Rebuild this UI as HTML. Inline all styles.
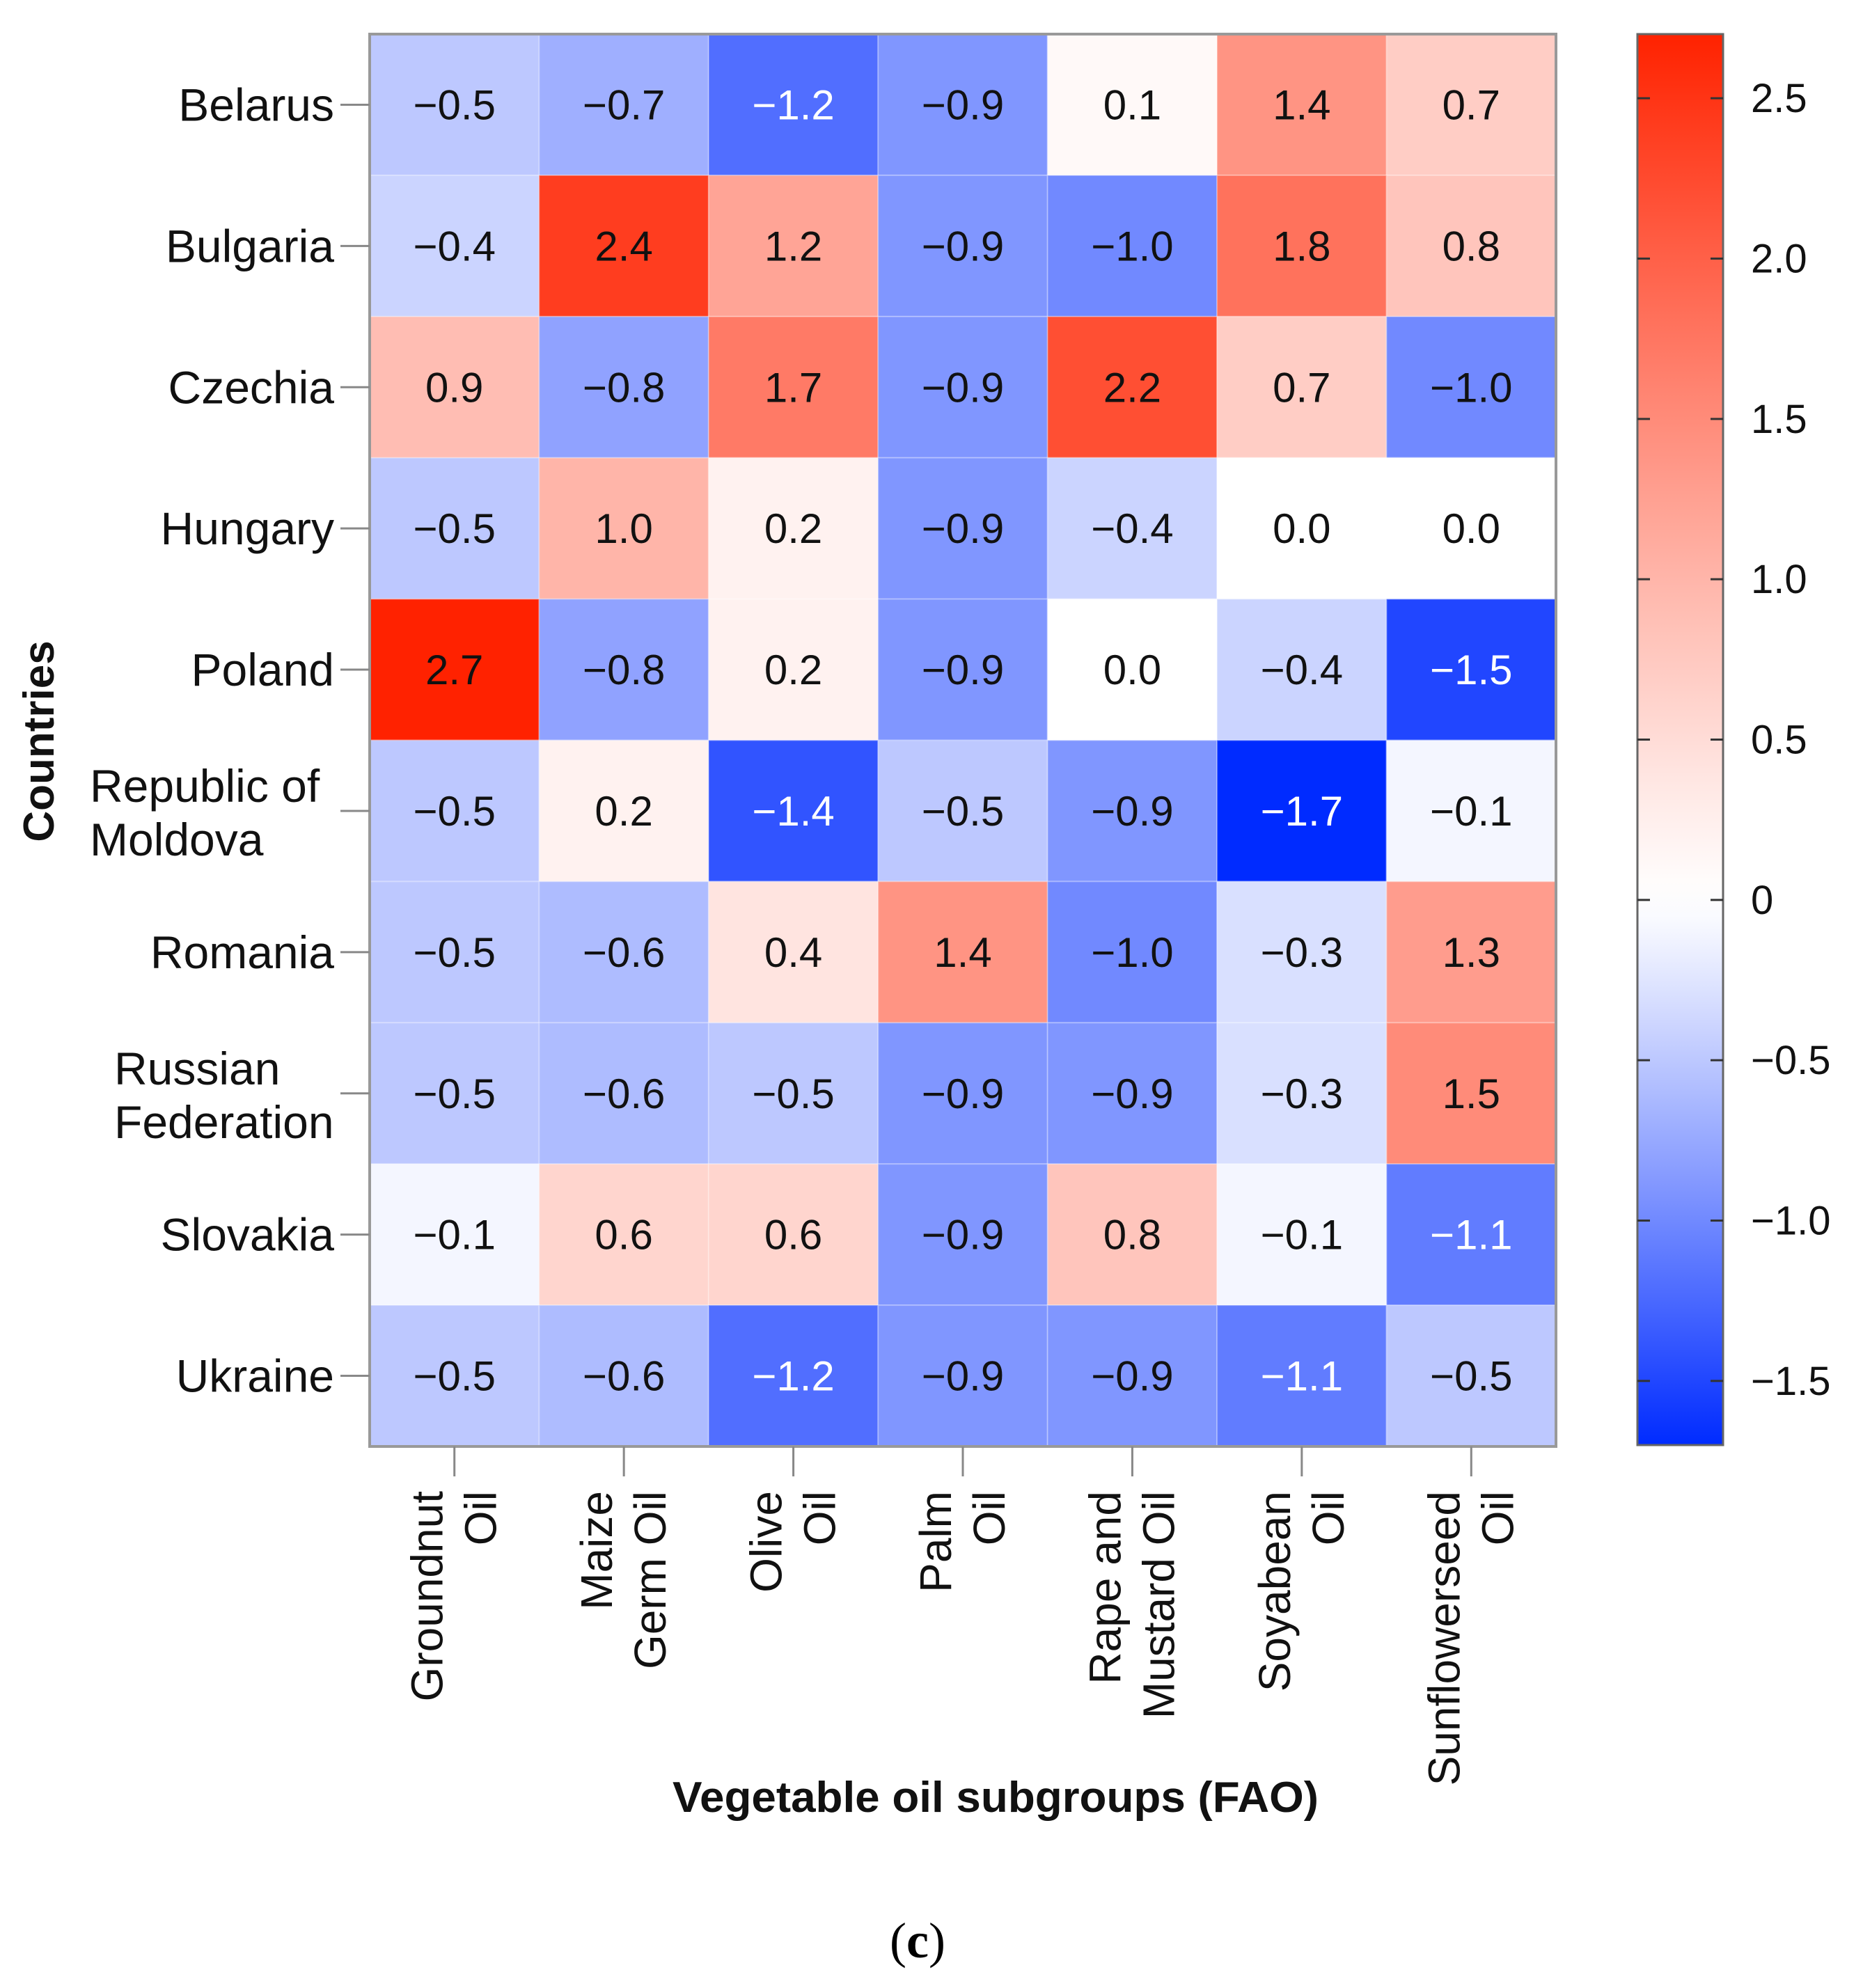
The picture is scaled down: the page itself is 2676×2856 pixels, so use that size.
<!DOCTYPE html>
<html><head><meta charset="utf-8">
<style>
html,body{margin:0;padding:0;background:#fff;}
svg{display:block;}
text{font-family:"Liberation Sans",Arial,sans-serif;}
</style></head>
<body>
<svg id="chart" xmlns="http://www.w3.org/2000/svg" width="2676" height="2856" viewBox="0 0 2676 2856">
  <defs>
    <linearGradient id="cbgrad" x1="0" y1="0" x2="0" y2="1"></linearGradient>
  </defs>
  <g id="cells"></g>
  <g id="values"></g>
  <rect x="531" y="49" width="1704" height="2029" fill="none" stroke="#999" stroke-width="4"/>
  <g id="yaxis"></g>
  <g id="xaxis"></g>
  <g id="colorbar"></g>
  <text transform="translate(77,1065) rotate(-90)" text-anchor="middle" font-size="62" font-weight="bold" fill="#111">Countries</text>
  <text x="1430" y="2603" text-anchor="middle" font-size="62" font-weight="bold" fill="#111" textLength="928" lengthAdjust="spacingAndGlyphs">Vegetable oil subgroups (FAO)</text>
  <text x="1318" y="2812" text-anchor="middle" font-size="72" fill="#000" style="font-family:'Liberation Serif',serif">(<tspan font-weight="bold">c</tspan>)</text>
</svg>
<script>
const countries = [["Belarus"],["Bulgaria"],["Czechia"],["Hungary"],["Poland"],["Republic of","Moldova"],["Romania"],["Russian","Federation"],["Slovakia"],["Ukraine"]];
const oils = [["Groundnut","Oil"],["Maize","Germ Oil"],["Olive","Oil"],["Palm","Oil"],["Rape and","Mustard Oil"],["Soyabean","Oil"],["Sunflowerseed","Oil"]];
const rowBelarus  = [-0.5,-0.7,-1.2,-0.9, 0.1, 1.4, 0.7];
const rowBulgaria = [-0.4, 2.4, 1.2,-0.9,-1.0, 1.8, 0.8];
const rowCzechia  = [ 0.9,-0.8, 1.7,-0.9, 2.2, 0.7,-1.0];
const rowHungary  = [-0.5, 1.0, 0.2,-0.9,-0.4, 0.0, 0.0];
const rowPoland   = [ 2.7,-0.8, 0.2,-0.9, 0.0,-0.4,-1.5];
const rowMoldova  = [-0.5, 0.2,-1.4,-0.5,-0.9,-1.7,-0.1];
const rowRomania  = [-0.5,-0.6, 0.4, 1.4,-1.0,-0.3, 1.3];
const rowRussia   = [-0.5,-0.6,-0.5,-0.9,-0.9,-0.3, 1.5];
const rowSlovakia = [-0.1, 0.6, 0.6,-0.9, 0.8,-0.1,-1.1];
const rowUkraine  = [-0.5,-0.6,-1.2,-0.9,-0.9,-1.1,-0.5];
const values = [rowBelarus,rowBulgaria,rowCzechia,rowHungary,rowPoland,rowMoldova,rowRomania,rowRussia,rowSlovakia,rowUkraine];
const cbTicks = [2.5,2.0,1.5,1.0,0.5,0,-0.5,-1.0,-1.5];
const cbTickLabels = ["2.5","2.0","1.5","1.0","0.5","0","\u22120.5","\u22121.0","\u22121.5"];
const vmin = -1.7, vmax = 2.7;

const NS = "http://www.w3.org/2000/svg";
const L = 531, T = 49, W = 1704, H = 2029;
const cw = W / oils.length, ch = H / countries.length;
function xCell(i){ return L + i*cw; }
function yCell(j){ return T + j*ch; }
function fmt(v){ return (v<0?"\u2212":"") + Math.abs(v).toFixed(1); }
function color(v){
  if (v >= 0){
    const f = Math.pow(Math.min(v/vmax,1),1.1);
    return `rgb(255,${Math.round(255-f*221)},${Math.round(255-f*255)})`;
  } else {
    const f = Math.pow(Math.min(v/vmin,1),1.1);
    return `rgb(${Math.round(255-f*255)},${Math.round(255-f*212)},255)`;
  }
}
function mk(tag, attrs, parent){
  const e = document.createElementNS(NS, tag);
  for (const k in attrs) e.setAttribute(k, attrs[k]);
  parent.appendChild(e); return e;
}
const gC = document.getElementById('cells'), gV = document.getElementById('values');
values.forEach((row,j)=>{
  row.forEach((v,i)=>{
    const r = mk('rect',{x:xCell(i),y:yCell(j),width:cw,height:ch,fill:color(v),stroke:'rgba(255,255,255,0.25)','stroke-width':2},gC);
    
    
    const t = mk('text',{x:xCell(i)+cw/2,y:yCell(j)+ch/2+21,'text-anchor':'middle','font-size':60,fill:(v<=-1.05?'#fff':'#111')},gV);
    
    
    t.textContent = fmt(v);
  });
});
const gY = document.getElementById('yaxis');
countries.forEach((lines,j)=>{
  const cy = yCell(j)+ch/2;
  const tk = mk('line',{x1:489,y1:cy,x2:531,y2:cy,stroke:'#888','stroke-width':3},gY);
  
  
  if (lines.length===1){
    const t = mk('text',{x:480,y:cy+23,'text-anchor':'end','font-size':66,fill:'#111'},gY);
    
    
    t.textContent = lines[0];
  } else {
    const t = mk('text',{'font-size':66,fill:'#111'},gY);
    
    
    const xs = (j===5)?129:164;
    lines.forEach((ln,k)=>{
      const s = mk('tspan',{x:xs,y:cy-13+k*77},t); s.textContent = ln;
    });
  }
});
const gX = document.getElementById('xaxis');
oils.forEach((lines,i)=>{
  const cx = xCell(i)+cw/2;
  const tk = mk('line',{x1:cx,y1:2078,x2:cx,y2:2121,stroke:'#888','stroke-width':3},gX);
  
  
  const t = mk('text',{transform:`translate(${cx},2142) rotate(-90)`,'text-anchor':'end','font-size':64,fill:'#111'},gX);
  
  
  lines.forEach((ln,k)=>{
    const s = mk('tspan',{x:0,y:-17+k*77},t); s.textContent = ln;
  });
});
// colorbar
const grad = document.getElementById('cbgrad');
for (let k=0;k<=40;k++){
  const v = vmax - (vmax-vmin)*k/40;
  mk('stop',{offset:(k/40),'stop-color':color(v)},grad);
}
const gB = document.getElementById('colorbar');
const CBL=2352, CBR=2475, CBT=49, CBB=2076;
function yCb(v){ return CBT + (vmax-v)/(vmax-vmin)*(CBB-CBT); }
const cb = mk('rect',{x:CBL,y:CBT,width:CBR-CBL,height:CBB-CBT,fill:'url(#cbgrad)',stroke:'#666','stroke-width':3},gB);


cbTicks.forEach((v,k)=>{
  const y = yCb(v);
  const a = mk('line',{x1:CBL,y1:y,x2:CBL+18,y2:y,stroke:'#333','stroke-width':3},gB);
  
  
  const b = mk('line',{x1:CBR-18,y1:y,x2:CBR,y2:y,stroke:'#333','stroke-width':3},gB);
  
  
  const t = mk('text',{x:2515,y:y+20,'font-size':58,fill:'#111'},gB);
  
  
  t.textContent = cbTickLabels[k];
});
</script>
</body></html>
